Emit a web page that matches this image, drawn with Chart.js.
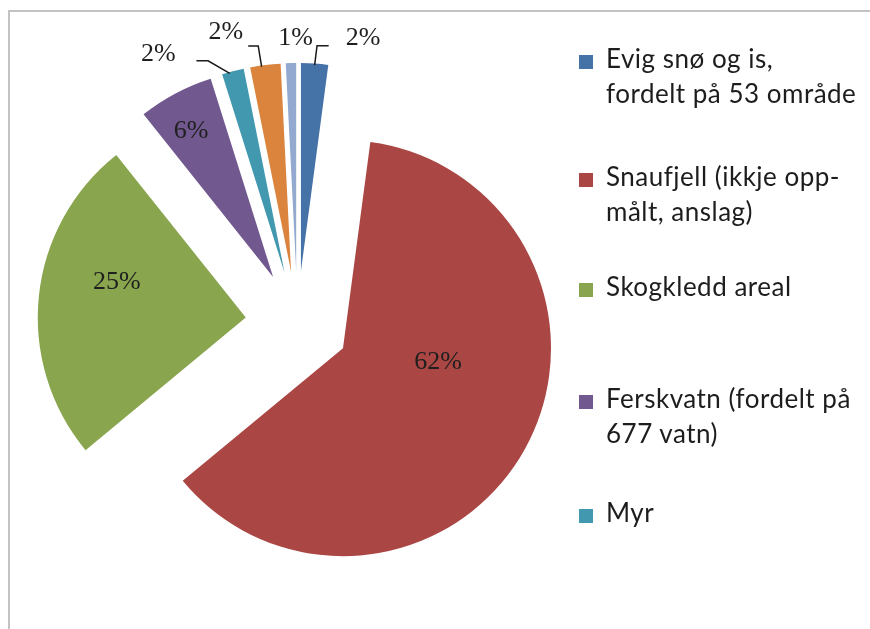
<!DOCTYPE html>
<html><head><meta charset="utf-8">
<script src="https://cdn.jsdelivr.net/npm/chart.js@4.4.0/dist/chart.umd.min.js"></script>
<style>
html,body{margin:0;padding:0;background:#fff;}
#wrap{position:relative;width:870px;height:629px;overflow:hidden;background:#fff;}
#frame{position:absolute;left:8px;top:10px;width:900px;height:700px;border-left:2px solid #c3c3c3;border-top:2px solid #c3c3c3;}
#c{position:absolute;left:0;top:0;}
.item{position:absolute;left:579px;width:290px;font-family:Lato,"Open Sans",sans-serif;font-size:26px;letter-spacing:0.5px;line-height:35px;color:#1d1d1d;}
.sw{position:absolute;left:0;width:14px;height:14px;}
.tx{position:absolute;left:27px;top:0;white-space:nowrap;}
</style></head>
<body><div id="wrap"><div id="frame"></div><canvas id="c" width="870" height="629"></canvas><div id="legend"></div></div>
<script>
// ---- data ----
const categories = [
  "Evig snø og is, fordelt på 53 område",
  "Snaufjell (ikkje opp-målt, anslag)",
  "Skogkledd areal",
  "Ferskvatn (fordelt på 677 vatn)",
  "Myr",
  "Anna 1",
  "Anna 2"
];
const shares = [2.1, 61.9, 25.3, 5.85, 1.7, 2.35, 0.8];
const percentLabels = ["2%", "62%", "25%", "6%", "2%", "2%", "1%"];
const legendCount = 5; // only the first five entries are visible in the legend

// ---- styles / layout ----
const colors = ["#4572A7", "#AA4643", "#89A54E", "#71588F", "#4198AF", "#DB843D", "#93A9CF"];
const EXPLODE = 52;
const legendBaselines = [69, 186.7, 296.7, 409, 522.7];
const legendBreakAfter = ["Evig snø og is,", "Snaufjell (ikkje opp-", null, "Ferskvatn (fordelt på", null];
// label placement: inside -> offset from slice tip; outside -> offset from outer mid point of arc
const labelLayout = [
  {out: true, dx: 48.4, dy: -25.2, leader: [[0, 1.5], [2.4, -17.8], [14, -17.8]]},
  {out: false, dx: 95, dy: 14},
  {out: false, dx: -129, dy: -35},
  {out: false, dx: -82, dy: -146},
  {out: true, dx: -74.4, dy: -16.6, leader: [[-3.1, 2.3], [-24.8, -10.3], [-36.4, -10.3]]},
  {out: true, dx: -39.4, dy: -32.5, leader: [[-3.7, 1.7], [-7.1, -19], [-17.1, -19]]},
  {out: true, dx: 4.5, dy: -24.7}
];

const explodePlugin = {
  id: 'explodeSlices',
  beforeDatasetsDraw(chart) {
    const a = chart.chartArea;
    const cx = (a.left + a.right) / 2, cy = (a.top + a.bottom) / 2;
    chart.getDatasetMeta(0).data.forEach(arc => {
      const mid = (arc.startAngle + arc.endAngle) / 2;
      arc.x = cx + EXPLODE * Math.cos(mid);
      arc.y = cy + EXPLODE * Math.sin(mid);
    });
  }
};

const labelPlugin = {
  id: 'sliceLabels',
  afterDatasetsDraw(chart) {
    const ctx = chart.ctx;
    ctx.save();
    ctx.font = '26px "Liberation Serif", "Times New Roman", serif';
    ctx.fillStyle = '#1f1f1f';
    ctx.strokeStyle = '#1a1a1a';
    ctx.lineWidth = 1.5;
    ctx.textAlign = 'center';
    ctx.textBaseline = 'middle';
    chart.getDatasetMeta(0).data.forEach((arc, i) => {
      const L = labelLayout[i];
      const mid = (arc.startAngle + arc.endAngle) / 2;
      let bx, by;
      if (L.out) {
        bx = arc.x + arc.outerRadius * Math.cos(mid);
        by = arc.y + arc.outerRadius * Math.sin(mid);
        if (L.leader) {
          ctx.beginPath();
          L.leader.forEach((p, k) => {
            if (k === 0) ctx.moveTo(bx + p[0], by + p[1]);
            else ctx.lineTo(bx + p[0], by + p[1]);
          });
          ctx.stroke();
        }
      } else {
        bx = arc.x; by = arc.y;
      }
      ctx.fillText(percentLabels[i], bx + L.dx, by + L.dy);
    });
    ctx.restore();
  }
};

new Chart(document.getElementById('c'), {
  type: 'pie',
  data: {
    labels: categories,
    datasets: [{
      data: shares,
      backgroundColor: colors,
      borderWidth: 0
    }]
  },
  options: {
    responsive: false,
    animation: false,
    events: [],
    radius: 208,
    layout: {padding: {left: 0, right: 275, top: 17, bottom: 0}},
    plugins: {legend: {display: false}, tooltip: {enabled: false}}
  },
  plugins: [explodePlugin, labelPlugin]
});

// HTML legend
const legend = document.getElementById('legend');
const baseOff = 27.7;
for (let i = 0; i < legendCount; i++) {
  const it = document.createElement('div');
  it.className = 'item';
  it.style.top = (legendBaselines[i] - baseOff) + 'px';
  const sw = document.createElement('div');
  sw.className = 'sw';
  sw.style.background = colors[i];
  sw.style.top = (baseOff - 13.5) + 'px';
  const tx = document.createElement('div');
  tx.className = 'tx';
  const name = categories[i];
  const br = legendBreakAfter[i];
  if (br && name.startsWith(br)) {
    tx.appendChild(document.createTextNode(br));
    tx.appendChild(document.createElement('br'));
    tx.appendChild(document.createTextNode(name.slice(br.length).trim()));
  } else {
    tx.textContent = name;
  }
  it.appendChild(sw); it.appendChild(tx);
  legend.appendChild(it);
}
</script>
</body></html>
